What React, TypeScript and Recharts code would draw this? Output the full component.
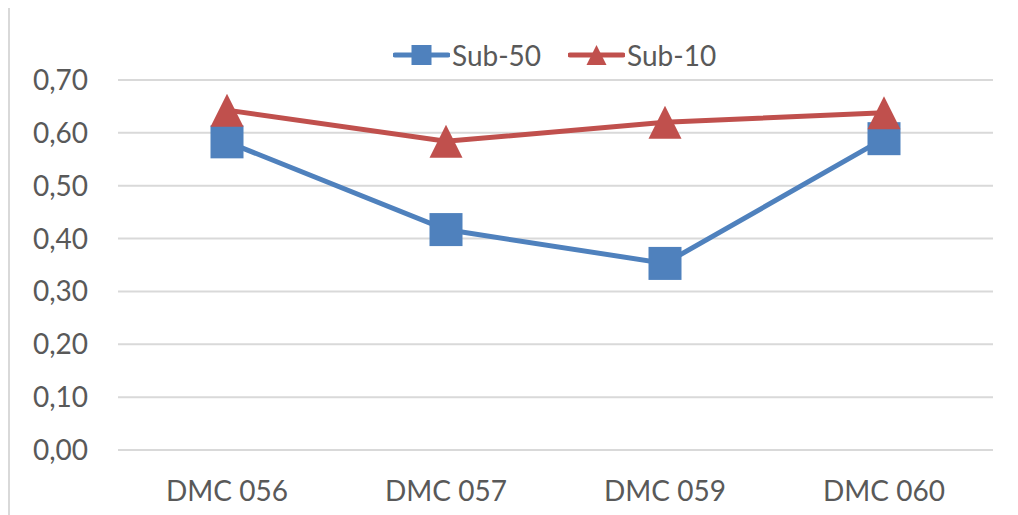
import { CartesianGrid, Legend, Line, LineChart, XAxis, YAxis } from 'recharts'

const categories = ['DMC 056', 'DMC 057', 'DMC 059', 'DMC 060']
const sub50 = [0.583, 0.417, 0.353, 0.589]
const sub10 = [0.643, 0.584, 0.62, 0.638]
const yTicks = [0, 0.1, 0.2, 0.3, 0.4, 0.5, 0.6, 0.7]

const BLUE = '#4f81bd'
const RED = '#c0504d'
const TEXT = '#595959'
const FONT = 'Lato, "Open Sans", sans-serif'

const data = categories.map((name, i) => ({ name, sub50: sub50[i], sub10: sub10[i] }))

const fmt = (v: number) => v.toFixed(2).replace('.', ',')

function SquareDot(props: any) {
  const { cx, cy } = props
  if (cx == null || cy == null) return null
  return <rect key={props.key ?? `s-${cx}`} x={cx - 16.5} y={cy - 16.5} width={33} height={33} fill={BLUE} />
}

function TriangleDot(props: any) {
  const { cx, cy } = props
  if (cx == null || cy == null) return null
  return (
    <polygon
      key={props.key ?? `t-${cx}`}
      points={`${cx},${cy - 16.5} ${cx + 16.5},${cy + 16.5} ${cx - 16.5},${cy + 16.5}`}
      fill={RED}
    />
  )
}

function LegendBox() {
  const item = (label: string, color: string, marker: 'square' | 'triangle') => (
    <div style={{ display: 'flex', alignItems: 'center' }}>
      <svg width={57} height={24}>
        <line x1={2} y1={12} x2={55} y2={12} stroke={color} strokeWidth={5} strokeLinecap="round" />
        {marker === 'square' ? (
          <rect x={18.5} y={2} width={20} height={20} fill={color} />
        ) : (
          <polygon points="28.5,2 38.5,22 18.5,22" fill={color} />
        )}
      </svg>
      <span style={{ marginLeft: 2, fontSize: 28, color: TEXT, fontFamily: FONT, lineHeight: '32px' }}>{label}</span>
    </div>
  )
  return (
    <div style={{ display: 'flex', gap: 27 }}>
      {item('Sub-50', BLUE, 'square')}
      {item('Sub-10', RED, 'triangle')}
    </div>
  )
}

export default function App() {
  return (
    <div
      style={{
        marginTop: -3,
        width: 1010,
        height: 510,
        borderLeft: '2px solid #d9d9d9',
        borderTop: '2px solid #d9d9d9',
        background: '#fff',
        overflow: 'hidden',
      }}
    >
      <LineChart width={1008} height={508} data={data} margin={{ top: 41, right: 25, left: 0, bottom: 0 }}>
        <CartesianGrid vertical={false} stroke="#d9d9d9" strokeWidth={2} />
        <XAxis
          dataKey="name"
          padding={{ left: 109, right: 109 }}
          height={65}
          axisLine={{ stroke: '#d9d9d9', strokeWidth: 2 }}
          tickLine={false}
          tickSize={0}
          tickMargin={31}
          tick={{ fontSize: 28, fill: TEXT, fontFamily: FONT }}
        />
        <YAxis
          domain={[0, 0.7]}
          ticks={yTicks}
          tickFormatter={fmt}
          width={108}
          axisLine={false}
          tickLine={false}
          tickSize={0}
          tickMargin={30}
          tick={{ fontSize: 28, fill: TEXT, fontFamily: FONT }}
        />
        <Legend
          verticalAlign="top"
          content={() => <LegendBox />}
          wrapperStyle={{ left: 383, top: 32, width: 'auto' }}
        />
        <Line
          dataKey="sub50"
          name="Sub-50"
          stroke={BLUE}
          strokeWidth={5}
          dot={(p: any) => <SquareDot {...p} />}
          activeDot={false}
          isAnimationActive={false}
        />
        <Line
          dataKey="sub10"
          name="Sub-10"
          stroke={RED}
          strokeWidth={5}
          dot={(p: any) => <TriangleDot {...p} />}
          activeDot={false}
          isAnimationActive={false}
        />
      </LineChart>
    </div>
  )
}
